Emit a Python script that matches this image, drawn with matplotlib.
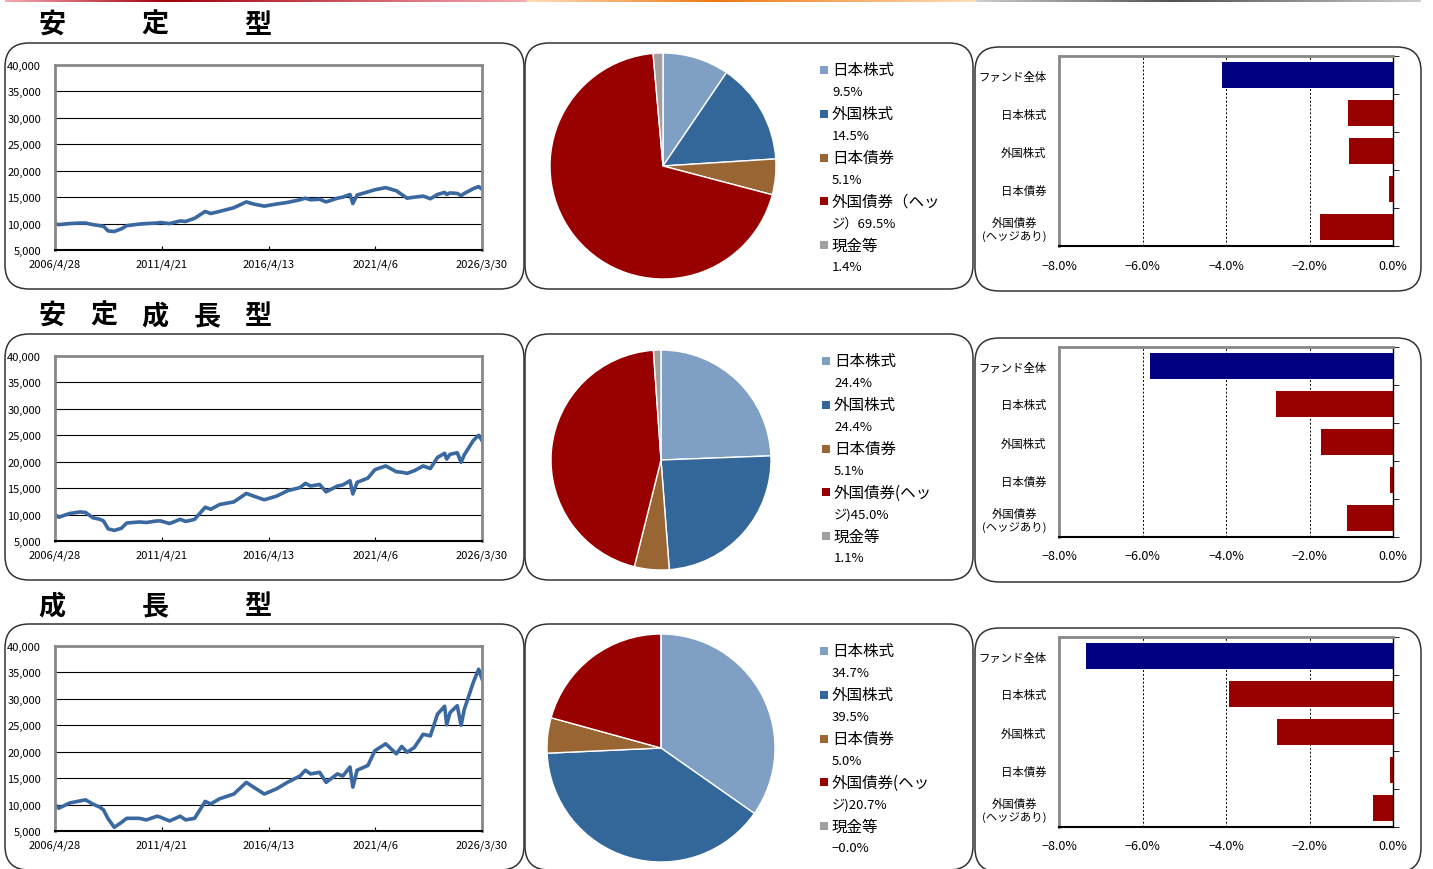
import matplotlib
matplotlib.use('Agg')
import matplotlib.pyplot as plt
from matplotlib.patches import FancyBboxPatch, Rectangle
import numpy as np
import pandas as pd

plt.rcParams['font.family'] = ['Noto Sans CJK JP', 'DejaVu Sans']

W, H = 1433, 870

# ---- data ----
row_titles = ['安定型', '安定成長型', '成長型']

dates = ['2006-04-28', '2006-07-01', '2007-01-01', '2007-07-01', '2007-10-01', '2008-02-01',
         '2008-06-01', '2008-08-01', '2008-10-20', '2009-02-01', '2009-06-01', '2009-09-01',
         '2010-04-01', '2010-08-01', '2011-02-01', '2011-04-01', '2011-09-01', '2012-03-01',
         '2012-06-01', '2012-11-01', '2013-05-01', '2013-08-01', '2014-01-01', '2014-09-01',
         '2015-04-01', '2015-08-01', '2016-02-01', '2016-09-01', '2017-03-01', '2017-10-01',
         '2018-01-01', '2018-04-01', '2018-09-01', '2018-12-20', '2019-07-01', '2019-10-01',
         '2020-02-01', '2020-03-20', '2020-06-01', '2020-12-01', '2021-04-01', '2021-10-01',
         '2022-04-01', '2022-07-01', '2022-10-01', '2023-02-01', '2023-07-01', '2023-11-01',
         '2024-03-01', '2024-07-01', '2024-08-05', '2024-10-01', '2025-02-01', '2025-04-08',
         '2025-06-01', '2025-11-01', '2026-02-01', '2026-03-30']

nav_stable = [10000, 9800, 10000, 10100, 10100, 9800, 9600, 9500, 8600, 8500, 9000, 9600,
              9900, 10000, 10100, 10200, 10000, 10500, 10400, 11000, 12300, 11900, 12300, 13000,
              14100, 13700, 13300, 13700, 14000, 14500, 14800, 14500, 14600, 14100, 14800, 15000,
              15500, 13800, 15400, 16000, 16400, 16800, 16200, 15500, 14800, 15000, 15200, 14700,
              15500, 15900, 15500, 15800, 15700, 15300, 15700, 16600, 17000, 16500]
nav_balanced = [10000, 9500, 10200, 10500, 10400, 9400, 9100, 8800, 7300, 7000, 7400, 8400,
                8600, 8500, 8800, 8800, 8300, 9100, 8700, 9100, 11400, 11000, 11900, 12400,
                14000, 13500, 12800, 13500, 14500, 15100, 15900, 15400, 15700, 14300, 15400, 15600,
                16400, 13900, 16100, 16900, 18500, 19200, 18100, 18000, 17800, 18300, 19200, 18700,
                20800, 21600, 20500, 21400, 21700, 19900, 21300, 24000, 25000, 24000]
nav_growth = [10000, 9300, 10300, 10700, 10900, 10100, 9500, 9000, 7300, 5700, 6600, 7400,
              7400, 7100, 7800, 7600, 6900, 7800, 7100, 7400, 10600, 10100, 11100, 12000,
              14200, 13300, 12000, 13000, 14200, 15400, 16500, 15800, 16100, 14200, 15800, 15400,
              17100, 13300, 16500, 17400, 20200, 21500, 19600, 21000, 19900, 20800, 23300, 23000,
              27100, 28600, 25100, 27400, 28700, 25000, 28000, 33100, 35600, 33800]
nav_series = [nav_stable, nav_balanced, nav_growth]

date_ticks = ['2006-04-28', '2011-04-21', '2016-04-13', '2021-04-06', '2026-03-30']
date_tick_labels = ['2006/4/28', '2011/4/21', '2016/4/13', '2021/4/6', '2026/3/30']

asset_colors = ['#7f9fc4', '#336699', '#996633', '#990000', '#a0a0a0']
alloc = [[9.5, 14.5, 5.1, 69.5, 1.4],
         [24.4, 24.4, 5.1, 45.0, 1.1],
         [34.7, 39.5, 5.0, 20.7, 0.0]]
alloc_labels = [['9.5%', '14.5%', '5.1%', 'ジ）69.5%', '1.4%'],
                ['24.4%', '24.4%', '5.1%', 'ジ)45.0%', '1.1%'],
                ['34.7%', '39.5%', '5.0%', 'ジ)20.7%', '−0.0%']]
asset_names_rows = [['日本株式', '外国株式', '日本債券', '外国債券（ヘッ', '現金等'],
                    ['日本株式', '外国株式', '日本債券', '外国債券(ヘッ', '現金等'],
                    ['日本株式', '外国株式', '日本債券', '外国債券(ヘッ', '現金等']]

contrib_cats = ['ファンド全体', '日本株式', '外国株式', '日本債券', '外国債券\n(ヘッジあり)']
contrib = [[-4.10, -1.08, -1.06, -0.09, -1.75],
           [-5.82, -2.81, -1.73, -0.08, -1.10],
           [-7.35, -3.92, -2.77, -0.06, -0.48]]
contrib_colors = ['#000080', '#990000', '#990000', '#990000', '#990000']


def px(x0, y0, x1, y1):
    return [x0 / W, 1 - y1 / H, (x1 - x0) / W, (y1 - y0) / H]


fig = plt.figure(figsize=(W / 100, H / 100), dpi=100)

# background layer in pixel coordinates
bg = fig.add_axes([0, 0, 1, 1])
bg.set_xlim(0, W)
bg.set_ylim(H, 0)
bg.axis('off')

# top gradient strip
xs = np.arange(W)
stops_x = [0, 4, 5, 166, 525, 527, 715, 975, 977, 1174, 1420, 1421, W]
stops_c = np.array([[255, 255, 255], [255, 255, 255], [245, 170, 180], [160, 0, 10], [245, 170, 180],
                    [255, 222, 185], [235, 120, 20], [255, 222, 185],
                    [205, 205, 205], [80, 80, 80], [205, 205, 205], [255, 255, 255], [255, 255, 255]]) / 255
grad = np.stack([np.interp(xs, stops_x, stops_c[:, k]) for k in range(3)], axis=-1)[None, :, :]
strip = fig.add_axes(px(0, 0, W, 2.5))
strip.imshow(grad, aspect='auto')
strip.axis('off')

row_off = [0, 291, 581]
pie_geo = [(663, 167, 113), (661, 461, 110), (661, 749, 114)]
dt = pd.to_datetime(dates)

for r in range(3):
    o = row_off[r]

    # title characters spread over fixed slots
    chars = list(row_titles[r])
    slots = [52, 155, 258] if len(chars) == 3 else [52, 104, 155, 207, 258]
    for ch, sx in zip(chars, slots):
        bg.text(sx, 25 + o, ch, fontsize=19.5, fontweight='bold', ha='center', va='center')

    # rounded frames
    for (x0, y0, x1, y1) in [(5, 44, 524, 290), (525, 44, 973, 290), (975, 48, 1421, 292)]:
        bg.add_patch(FancyBboxPatch((x0, y0 + o), x1 - x0, y1 - y0,
                                    boxstyle='round,pad=0,rounding_size=24',
                                    fc='white', ec='#333333', lw=1.1))

    # NAV line chart
    ax = fig.add_axes(px(55, 66 + o, 482, 251 + o))
    ax.plot(dt, nav_series[r], color='#3a68a0', lw=2.6, solid_joinstyle='round')
    ax.set_ylim(5000, 40000)
    ax.set_xlim(dt[0], dt[-1])
    ax.set_yticks(range(5000, 40001, 5000))
    ax.set_yticklabels([f'{v:,}' for v in range(5000, 40001, 5000)], fontsize=8)
    ax.set_xticks(pd.to_datetime(date_ticks))
    ax.set_xticklabels(date_tick_labels, fontsize=8)
    ax.grid(axis='y', color='black', lw=0.8)
    ax.set_axisbelow(True)
    for s in ['top', 'left', 'right']:
        ax.spines[s].set_color('#888888')
        ax.spines[s].set_linewidth(2)
    ax.spines['bottom'].set_color('black')
    ax.spines['bottom'].set_linewidth(1.5)
    ax.tick_params(axis='y', length=0, pad=10)
    ax.tick_params(axis='x', direction='in', length=3, pad=6)

    # allocation pie
    cx, cy, rad = pie_geo[r]
    pax = fig.add_axes(px(cx - rad, cy - rad, cx + rad, cy + rad))
    pax.pie(alloc[r], colors=asset_colors, startangle=90, counterclock=False,
            wedgeprops=dict(edgecolor='white', linewidth=1))
    pax.set_xlim(-1, 1)
    pax.set_ylim(-1, 1)

    # legend drawn beside pie
    lx = 832 if r != 1 else 834
    for i in range(5):
        yy = 71 + o + i * 43.8
        bg.add_patch(Rectangle((lx - 12, yy - 4), 8, 8, color=asset_colors[i], lw=0))
        bg.text(lx, yy, asset_names_rows[r][i], fontsize=11.2, va='center', ha='left')
        bg.text(lx, yy + 21.5, alloc_labels[r][i], fontsize=9.5, va='center', ha='left')

    # contribution bar chart
    bax = fig.add_axes(px(1059, 57 + o, 1393, 247 + o))
    ypos = np.arange(len(contrib_cats))
    bax.barh(ypos, contrib[r], height=0.68, color=contrib_colors)
    bax.set_xlim(-8, 0)
    bax.set_ylim(len(contrib_cats) - 0.5, -0.5)
    bax.set_xticks(np.arange(-8, 0.1, 2))
    bax.set_xticklabels([f'{v:.1f}%'.replace('-', '−') for v in np.arange(-8, 0.1, 2)], fontsize=9)
    bax.set_yticks(ypos)
    bax.set_yticklabels(contrib_cats, fontsize=8.2)
    for lab in bax.get_yticklabels():
        lab.set_multialignment('center')
    bax.set_yticks(np.arange(-0.5, len(contrib_cats)), minor=True)
    bax.tick_params(axis='y', which='major', length=0, pad=9)
    bax.tick_params(axis='y', which='minor', left=False, right=True, direction='out', length=4)
    bax.tick_params(axis='x', length=0, pad=9)
    for gx in [-6, -4, -2]:
        bax.axvline(gx, color='black', lw=0.7, ls=(0, (2, 2)), zorder=0)
    for s in ['top', 'left']:
        bax.spines[s].set_color('#888888')
        bax.spines[s].set_linewidth(2)
    bax.spines['bottom'].set_color('black')
    bax.spines['bottom'].set_linewidth(1.5)
    bax.spines['right'].set_color('black')
    bax.spines['right'].set_linewidth(1)

fig.savefig('out.png', dpi=100)
